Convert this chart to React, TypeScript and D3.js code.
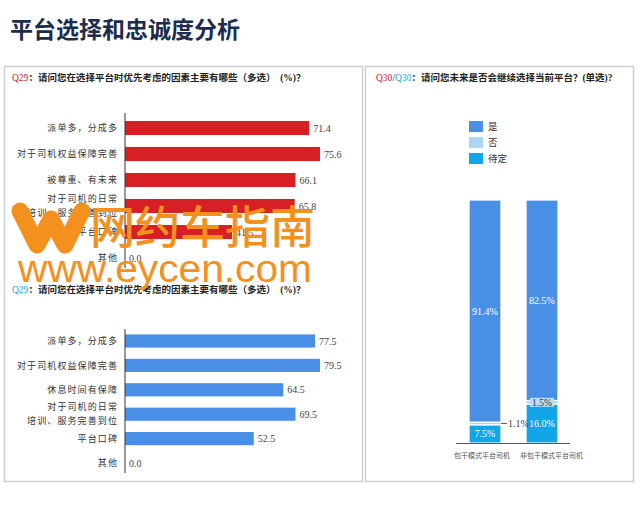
import React from "react";
import * as d3 from "d3";

const titleText = "平台选择和忠诚度分析";
const q29Text = "：请问您在选择平台时优先考虑的因素主要有哪些（多选）　(%)？";
const q30Text = "：请问您未来是否会继续选择当前平台？(单选)?";

const topCategories = ["派单多，分成多", "对于司机权益保障完善", "被尊重、有未来", "对于司机的日常|培训、服务完善到位", "平台口碑", "其他"];
const topValues = [71.4, 75.6, 66.1, 65.8, 41.5, 0.0];

const bottomCategories = ["派单多，分成多", "对于司机权益保障完善", "休息时间有保障", "对于司机的日常|培训、服务完善到位", "平台口碑", "其他"];
const bottomValues = [77.5, 79.5, 64.5, 69.5, 52.5, 0.0];

const groups = ["包干模式平台司机", "非包干模式平台司机"];
const stackKeys = ["待定", "否", "是"];
const legendKeys = ["是", "否", "待定"];
const yesValues = [91.4, 82.5];
const noValues = [1.1, 1.5];
const undecidedValues = [7.5, 16.0];

const CJK = "'Liberation Serif', 'Noto Sans CJK SC', serif";
const NUM = "'Liberation Serif', 'DejaVu Serif', serif";

function HBarChart({ categories, values, color, yRange, axisTop, axisBottom }) {
  const x = d3.scaleLinear().domain([0, d3.max(values)]).range([125, 320]);
  const y = d3.scaleBand().domain(categories).range(yRange).paddingInner(0.46).paddingOuter(0.23);
  return (
    <g>
      {categories.map((c, i) => {
        const cy = y(c) + y.bandwidth() / 2;
        const lines = c.split("|");
        return (
          <g key={c + i}>
            {values[i] > 0 && (
              <rect x={x(0)} y={y(c)} width={x(values[i]) - x(0)} height={y.bandwidth()} fill={color} />
            )}
            {lines.map((ln, j) => (
              <text key={j} x={118} y={cy + (j - (lines.length - 1) / 2) * 14} dy="0.35em" textAnchor="end"
                fontFamily={CJK} fontSize={9} letterSpacing={1.1} fill="#333">{ln}</text>
            ))}
            <text x={x(values[i]) + 4} y={cy} dy="0.35em" fontFamily={NUM} fontSize={10} fill="#444">
              {values[i].toFixed(1)}
            </text>
          </g>
        );
      })}
      <line x1={x(0)} x2={x(0)} y1={axisTop} y2={axisBottom} stroke="#333" strokeWidth={1} />
    </g>
  );
}

export default function App() {
  const colors = { "是": "#4a8fe6", "否": "#acd6f4", "待定": "#12a5e8" };
  const table = groups.map((g, i) => ({ group: g, "是": yesValues[i], "否": noValues[i], "待定": undecidedValues[i] }));
  const series = d3.stack().keys(stackKeys)(table);
  const xb = d3.scaleBand().domain(groups).range([456.5, 570.5]).paddingInner(0.44).paddingOuter(0.22);
  const ys = d3.scaleLinear().domain([0, 100]).range([443, 200]);

  return (
    <svg width={640} height={508} style={{ position: "absolute", left: 0, top: 0, background: "#fff" }}>
      <rect width={640} height={508} fill="#fff" />
      <text x={10} y={38} fontFamily={CJK} fontWeight="bold" fontSize={23} fill="#1b2c4d">{titleText}</text>

      {/* panels */}
      <rect x={4.5} y={66.5} width={358} height={415} fill="none" stroke="#c9d0da" strokeWidth={1.5} />
      <rect x={365.5} y={66.5} width={268} height={415} fill="none" stroke="#c9d0da" strokeWidth={1.5} />

      {/* headers */}
      <text x={12} y={81} fontFamily={CJK} fontSize={9.5} fontWeight="bold" fill="#222">
        <tspan fill="#d52027" fontWeight="normal" fontFamily={NUM}>Q29</tspan>{q29Text}
      </text>
      <text x={12} y={293} fontFamily={CJK} fontSize={9.5} fontWeight="bold" fill="#222">
        <tspan fill="#1aa3e0" fontWeight="normal" fontFamily={NUM}>Q29</tspan>{q29Text}
      </text>
      <text x={376} y={81} fontFamily={CJK} fontSize={9.5} fontWeight="bold" fill="#222">
        <tspan fill="#d52027" fontWeight="normal" fontFamily={NUM}>Q30</tspan>
        <tspan fontWeight="normal" fontFamily={NUM}>/</tspan>
        <tspan fill="#1aa3e0" fontWeight="normal" fontFamily={NUM}>Q30</tspan>{q30Text}
      </text>

      <HBarChart categories={topCategories} values={topValues} color="#d71f26" yRange={[115, 271]} axisTop={113} axisBottom={268} />
      <HBarChart categories={bottomCategories} values={bottomValues} color="#4a8fe6" yRange={[328.8, 475.2]} axisTop={329} axisBottom={473} />

      {/* legend */}
      {legendKeys.map((k, i) => (
        <g key={k}>
          <rect x={469} y={121 + i * 16} width={14} height={11} fill={colors[k]} />
          <text x={488} y={126.5 + i * 16} dy="0.35em" fontFamily={CJK} fontSize={9.5} fill="#333">{k}</text>
        </g>
      ))}

      {/* stacked bars */}
      {series.map((s) => (
        <g key={s.key}>
          {s.map((d, i) => (
            <rect key={i} x={xb(groups[i])} y={ys(d[1])} width={xb.bandwidth()} height={ys(d[0]) - ys(d[1])}
              fill={colors[s.key]} stroke="#fff" strokeWidth={1.2} />
          ))}
        </g>
      ))}
      {series.map((s) =>
        s.map((d, i) => {
          const cx = xb(groups[i]) + xb.bandwidth() / 2;
          const cy = (ys(d[0]) + ys(d[1])) / 2;
          const v = d[1] - d[0];
          const label = v.toFixed(1) + "%";
          if (s.key === "否") {
            if (i === 0) {
              const rx = xb(groups[i]) + xb.bandwidth();
              return (
                <g key={s.key + i}>
                  <line x1={rx} x2={rx + 6} y1={cy} y2={cy} stroke="#555" />
                  <text x={rx + 7} y={cy} dy="0.35em" fontFamily={NUM} fontSize={10} fill="#444">{label}</text>
                </g>
              );
            }
            return (
              <g key={s.key + i}>
                <rect x={cx - 12} y={cy - 4.5} width={24} height={9} fill="#b9ddf5" />
                <text x={cx} y={cy} dy="0.35em" textAnchor="middle" fontFamily={NUM} fontSize={9.5} fill="#333">{label}</text>
              </g>
            );
          }
          return (
            <text key={s.key + i} x={cx} y={cy} dy="0.35em" textAnchor="middle" fontFamily={NUM} fontSize={10} fill="#fff">{label}</text>
          );
        })
      )}
      <line x1={456} x2={570} y1={443.5} y2={443.5} stroke="#555" strokeWidth={1} />
      {groups.map((g, i) => (
        <text key={g} x={i === 0 ? xb(g) + xb.bandwidth() + 9 : xb(g) - 6} y={456} dy="0.35em"
          textAnchor={i === 0 ? "end" : "start"} fontFamily={CJK} fontSize={7} fill="#555">{g}</text>
      ))}

      {/* watermark */}
      <g>
        <path d="M20,211 L37,245 L51,219 L65,245 L82,211" fill="none" stroke="#f4901e" strokeWidth={17} strokeLinecap="round" strokeLinejoin="round" />
        <text x={90} y={244} fontFamily="'Noto Sans CJK SC', sans-serif" fontWeight={500} fontSize={45} fill="#f4901e">网约车指南</text>
        <text x={18} y={282} fontFamily="'Liberation Sans', Arial, sans-serif" fontSize={39} fill="#f4901e" textLength={294} lengthAdjust="spacingAndGlyphs">www.eycen.com</text>
      </g>
    </svg>
  );
}
